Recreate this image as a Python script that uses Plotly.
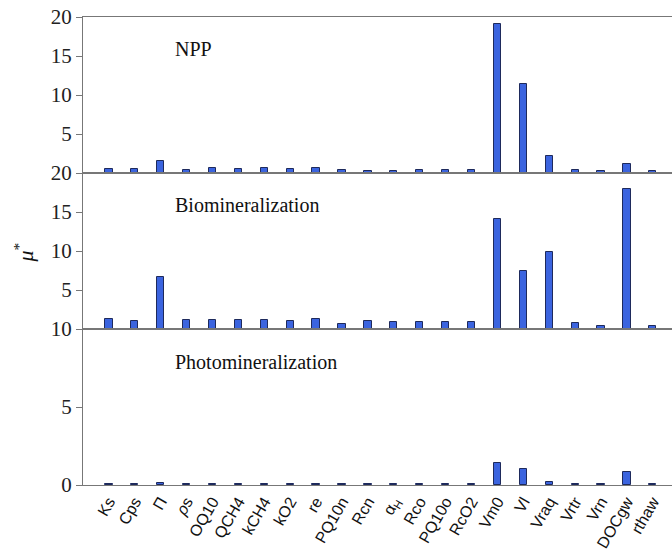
import plotly.graph_objects as go
from plotly.subplots import make_subplots

categories = ["Ks", "Cps", "Pi", "rhos", "OQ10", "QCH4", "kCH4", "kO2", "re", "PQ10n",
              "Rcn", "alphaH", "Rco", "PQ10o", "RcO2", "Vm0", "Vl", "Vraq", "Vrtr", "Vrn",
              "DOCgw", "rthaw"]
tick_labels = ["Ks", "Cps", "Π", "<i>ρ</i>s", "OQ10", "QCH4", "kCH4", "kO2", "re", "PQ10n",
               "Rcn", "α<sub>H</sub>", "Rco", "PQ10o", "RcO2", "Vm0", "Vl", "Vraq", "Vrtr", "Vrn",
               "DOCgw", "rthaw"]

npp = [0.48, 0.45, 1.55, 0.35, 0.7, 0.45, 0.58, 0.45, 0.6, 0.35,
       0.3, 0.22, 0.35, 0.35, 0.35, 19.1, 11.35, 2.2, 0.4, 0.26, 1.2, 0.3]
biomineralization = [1.27, 1.0, 6.67, 1.2, 1.1, 1.1, 1.15, 1.0, 1.3, 0.67,
                     1.05, 0.92, 0.92, 0.84, 0.92, 14.1, 7.47, 9.9, 0.76, 0.34, 18.0, 0.42]
photomineralization = [0.08, 0.05, 0.12, 0.05, 0.07, 0.05, 0.05, 0.05, 0.07, 0.05,
                       0.07, 0.05, 0.05, 0.05, 0.05, 1.4, 1.05, 0.17, 0.08, 0.08, 0.82, 0.08]
panel_names = ["NPP", "Biomineralization", "Photomineralization"]

fig = make_subplots(rows=3, cols=1, shared_xaxes=True, vertical_spacing=0)

for i, vals in enumerate([npp, biomineralization, photomineralization]):
    fig.add_trace(go.Bar(x=categories, y=vals, width=0.28,
                         marker=dict(color="#3b64df", line=dict(color="#1e2a5c", width=1)),
                         showlegend=False), row=i + 1, col=1)

line_col = "#777777"
for r in range(1, 4):
    fig.update_xaxes(row=r, col=1, showline=True, mirror=True, linecolor=line_col, linewidth=1.2,
                     range=[-1, 21.74], showgrid=False, ticks="", zeroline=False, automargin=False)
fig.update_xaxes(row=3, col=1, tickvals=categories, ticktext=tick_labels, tickangle=-60,
                 tickfont=dict(family="Liberation Sans", size=16, color="#111"))

yfont = dict(family="Liberation Serif", size=21, color="#222")
fig.update_yaxes(row=1, col=1, range=[0, 20], tickvals=[5, 10, 15, 20])
fig.update_yaxes(row=2, col=1, range=[0, 20], tickvals=[5, 10, 15, 20])
fig.update_yaxes(row=3, col=1, range=[0, 10], tickvals=[0, 5, 10])
for r in range(1, 4):
    fig.update_yaxes(row=r, col=1, showline=True, linecolor=line_col, linewidth=1.2, ticks="outside",
                     ticklen=6, tickcolor=line_col, showgrid=False, zeroline=False, tickfont=yfont,
                     automargin=False, ticklabeloverflow="allow")

ann_y = [0.932, 0.598, 0.263]
for name, yy in zip(panel_names, ann_y):
    fig.add_annotation(text=name, xref="paper", yref="paper", x=0.153, y=yy, xanchor="left",
                       yanchor="middle", showarrow=False,
                       font=dict(family="Liberation Serif", size=20, color="#111"))

fig.add_annotation(text="<i>μ</i><sup>*</sup>", xref="paper", yref="paper", x=-0.1, y=0.497,
                   xanchor="center", yanchor="middle", textangle=-90, showarrow=False,
                   font=dict(family="Liberation Serif", size=22, color="#111"))

fig.update_layout(width=672, height=552, margin=dict(l=83, r=0, t=17, b=67),
                  plot_bgcolor="white", paper_bgcolor="white", bargap=0)

# remove the browser's default body margin so the figure fills the window exactly
fig.write_html("out.html", config={"displayModeBar": False},
               post_script="document.body.style.margin='0';")
